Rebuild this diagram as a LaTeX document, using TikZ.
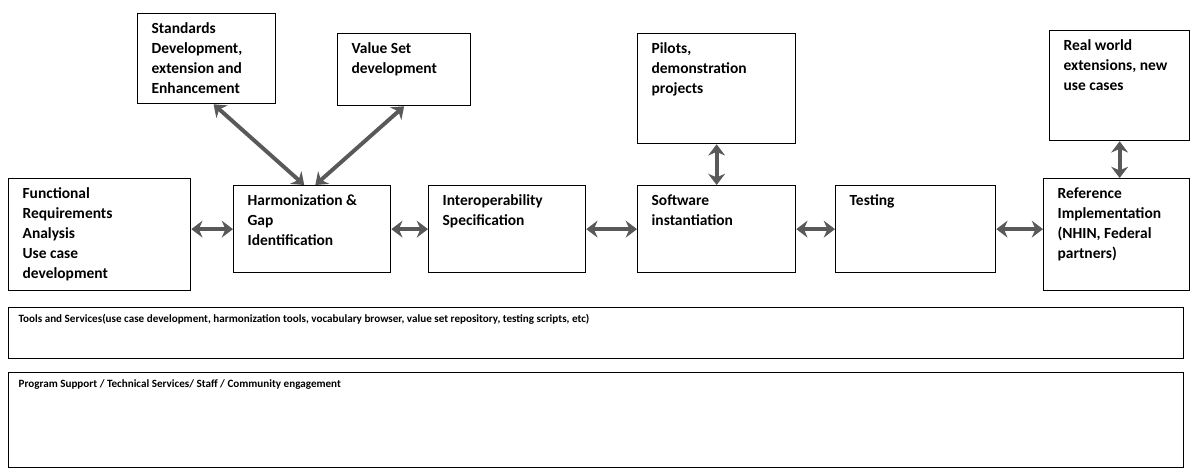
\documentclass[tikz,border=0pt]{standalone}
\usepackage{fontspec}
\setmainfont{Carlito}
\usetikzlibrary{positioning, arrows.meta, calc}

\newlength{\px}
\setlength{\px}{0.025cm}
% caixa com texto no canto superior esquerdo
\newcommand{\cell}[3]{\parbox[c][\dimexpr#2\px-18\px\relax][t]{\dimexpr#1\px-28\px\relax}{\raggedright#3}}
\newcommand{\bandcell}[3]{\parbox[c][\dimexpr#2\px-14\px\relax][t]{\dimexpr#1\px-20\px\relax}{\raggedright#3}}

\begin{document}
\begin{tikzpicture}[x=0.025cm, y=-0.025cm,
    box/.style={draw, line width=0.9pt, anchor=north west, inner xsep=14\px, inner ysep=9\px, font=\fontsize{11}{14.2}\selectfont\bfseries},
    band/.style={box, inner xsep=10\px, inner ysep=7\px, font=\fontsize{7.9}{11}\selectfont\bfseries},
    twoway/.style={{Stealth[length=8pt, width=12pt]}-{Stealth[length=8pt, width=12pt]}, line width=2.8pt, black!65}]
  \useasboundingbox (0,0) rectangle (1190,468);
  % Caixas de cima
  \node[box] (std) at (137,13) {\cell{138}{90}{Standards\\Development,\\extension and\\Enhancement}};
  \node[box] (val) at (337,33) {\cell{133}{72}{Value Set\\development}};
  \node[box] (pil) at (637,33) {\cell{158}{110}{Pilots,\\demonstration\\projects}};
  \node[box] (real) at (1049,30) {\cell{140}{110}{Real world\\extensions, new\\use cases}};
  % Fluxo principal
  \node[box] (func) at (8,178) {\cell{182}{112}{Functional\\Requirements\\Analysis\\Use case\\development}};
  \node[box] (harm) at (233,185) {\cell{157}{87}{Harmonization \&\\Gap\\Identification}};
  \node[box] (intop) at (428,185) {\cell{157}{87}{Interoperability\\Specification}};
  \node[box] (soft) at (637,185) {\cell{158}{87}{Software\\instantiation}};
  \node[box] (test) at (835,185) {\cell{160}{87}{Testing}};
  \node[box] (ref) at (1043,178) {\cell{146}{112}{Reference\\Implementation\\(NHIN, Federal\\partners)}};
  % Faixas de baixo
  \node[band] (tools) at (8,307) {\bandcell{1175}{51}{Tools and Services(use case development, harmonization tools, vocabulary browser, value set repository, testing scripts, etc)}};
  \node[band] (prog) at (8,372) {\bandcell{1175}{95}{Program Support / Technical Services/ Staff / Community engagement}};
  % Setas duplas
  \draw[twoway] (harm.west -| func.east) -- (harm.west);
  \draw[twoway] (harm.east) -- (intop.west);
  \draw[twoway] (intop.east) -- (soft.west);
  \draw[twoway] (soft.east) -- (test.west);
  \draw[twoway] (test.east) -- (test.east -| ref.west);
  \draw[twoway] (pil.south) -- (soft.north);
  \draw[twoway] (real.south) -- (real.south |- ref.north);
  \draw[twoway] ($(std.south west)!0.55!(std.south east)$) -- ($(harm.north west)!0.45!(harm.north east)$);
  \draw[twoway] ($(val.south west)!0.5!(val.south east)$) -- ($(harm.north west)!0.52!(harm.north east)$);
\end{tikzpicture}
\end{document}
